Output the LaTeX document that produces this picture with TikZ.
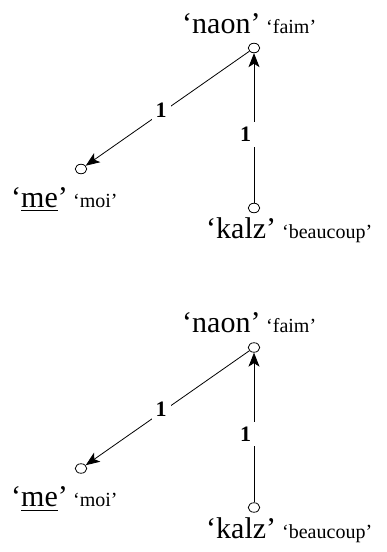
\documentclass[tikz,border=0pt]{standalone}
\usepackage{fontspec}
\setmainfont{Liberation Serif}
\usetikzlibrary{arrows.meta,shapes.geometric}
\begin{document}
\begin{tikzpicture}[x=1pt,y=-1pt,
  vertex/.style={ellipse,draw,line width=0.8pt,minimum width=11.5pt,minimum height=9.5pt,inner sep=0pt},
  wordlbl/.style={anchor=base west,inner sep=0pt,font=\fontsize{30}{32}\selectfont},
  glosslbl/.style={anchor=base west,inner sep=0pt,font=\fontsize{20}{22}\selectfont},
  deplink/.style={line width=0.8pt,-{Stealth[length=14pt,width=11pt,inset=3.5pt]}},
  numlbl/.style={fill=white,font=\fontsize{22}{24}\selectfont\bfseries,inner xsep=4pt,inner ysep=5pt}]
\useasboundingbox (0,0) rectangle (387,552);
\foreach \i/\dy in {a/0,b/299.5}{
  \begin{scope}[yshift=-\dy pt]
    \node[vertex] (naon\i) at (254,48) {};
    \node[vertex] (me\i) at (81,169) {};
    \node[vertex] (kalz\i) at (254,208) {};
    \node[wordlbl] (naonw\i) at (182,33) {‘naon’};
    \node[glosslbl] (naong\i) at (266,33) {‘faim’};
    \node[wordlbl] (mew\i) at (11,207) {‘\underline{me\rule[-2pt]{0pt}{2pt}}’};
    \node[glosslbl] (meg\i) at (73,207) {‘moi’};
    \node[wordlbl] (kalzw\i) at (206,238.5) {‘kalz’};
    \node[glosslbl] (kalzg\i) at (282,238.5) {‘beaucoup’};
    \draw[deplink] (naon\i) -- (me\i);
    \draw[deplink] (kalz\i) -- (naon\i);
    \node[numlbl] (one\i) at (161,110) {1};
    \node[numlbl] (two\i) at (245.5,134.5) {1};
  \end{scope}
}
\end{tikzpicture}
\end{document}
